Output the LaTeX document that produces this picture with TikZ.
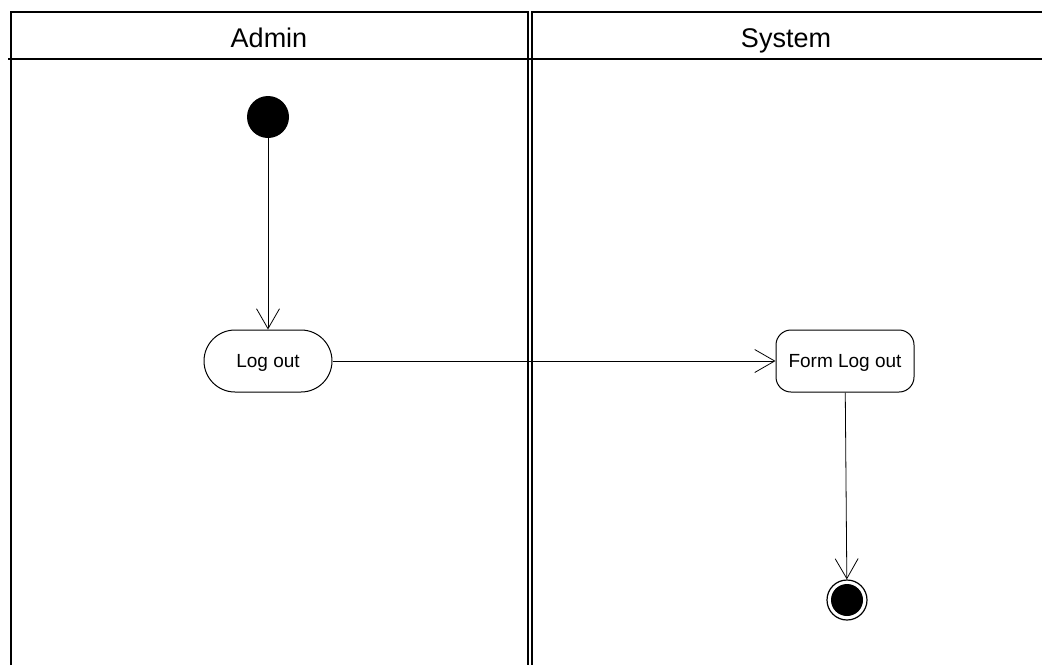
\documentclass[tikz,border=0pt]{standalone}
\usepackage{fontspec}
\setmainfont{Liberation Sans}
\usetikzlibrary{arrows.meta}

\begin{document}
\begin{tikzpicture}[x=1pt, y=-1pt]
    % Define styles
    \tikzset{
        lanetitle/.style={anchor=base, font=\fontsize{27}{30}\selectfont},
        laneline/.style={line width=1.5pt},
        action/.style={draw, line width=1pt, minimum height=62pt, inner sep=0pt,
            text height=12pt, text depth=0pt, font=\fontsize{19}{22}\selectfont},
        startnode/.style={circle, fill=black, minimum size=42pt, inner sep=0pt},
        endnode/.style={circle, draw, line width=1.2pt, minimum size=40pt, inner sep=0pt,
            path picture={\fill (path picture bounding box.center) circle (16pt);}},
        flow/.style={line width=0.8pt, -{Straight Barb[length=20pt, width=23pt, line width=0.8pt]}}
    }
    \useasboundingbox (0,0) rectangle (1042,665);

    % Swimlanes
    \draw[laneline] (11,665) -- (11,12) -- (528,12) -- (528,665);
    \draw[laneline] (1042,12) -- (532,12) -- (532,665);
    \draw[line width=2.5pt] (8,59) -- (1042,59);
    \node[lanetitle] (admin) at (269,47) {Admin};
    \node[lanetitle] (system) at (786,47) {System};

    % Nodes
    \node[startnode] (start) at (268,117) {};
    \node[action, minimum width=128pt, rounded corners=31pt] (logout) at (268,361) {Log out};
    \node[action, minimum width=138pt, rounded corners=15pt] (formlogout) at (845,361) {Form Log out};
    \node[endnode] (finish) at (847,600) {};

    % Flows
    \draw[flow] (start) -- (logout);
    \draw[flow] (logout) -- (formlogout);
    \draw[flow] (formlogout) -- (finish);
\end{tikzpicture}
\end{document}
